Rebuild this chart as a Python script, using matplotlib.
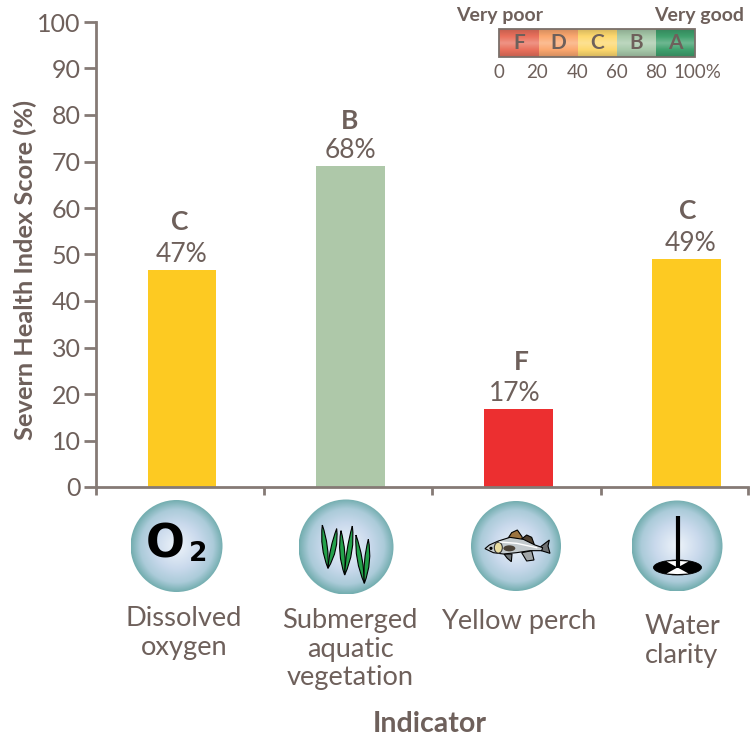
import numpy as np
import matplotlib
matplotlib.use("Agg")
import matplotlib.pyplot as plt
from matplotlib.patches import Circle, Ellipse, Polygon, Rectangle, PathPatch
from matplotlib.path import Path
from matplotlib.colors import LinearSegmentedColormap

categories = ["Dissolved\noxygen", "Submerged\naquatic\nvegetation", "Yellow perch", "Water\nclarity"]
scores = [46.7, 69.0, 16.8, 49.0]
score_labels = ["47%", "68%", "17%", "49%"]
grades = ["C", "B", "F", "C"]
bar_colors = ["#fdca22", "#aec8a9", "#ec2f30", "#fdca22"]
y_ticks = list(range(0, 101, 10))
scale_grades = ["F", "D", "C", "B", "A"]
scale_colors = ["#e9705c", "#fba76f", "#fdd86e", "#a7c9aa", "#3fa06d"]
scale_ticks = ["0", "20", "40", "60", "80", "100%"]

W, H = 755, 738
TXT = "#6e605b"
AX = "#857a75"
FONT = "Lato"
plt.rcParams["font.family"] = [FONT, "DejaVu Sans"]

fig = plt.figure(figsize=(W / 100, H / 100), dpi=100)
x0, x1, y0, y1 = 96, 748, 487, 22
ax = fig.add_axes([x0 / W, 1 - y0 / H, (x1 - x0) / W, (y0 - y1) / H])
ax.set_ylim(0, 100)
step = 168.2
left = -0.512
right = left + (x1 - x0) / step
ax.set_xlim(left, right)
xs = np.arange(len(scores))
ax.bar(xs, scores, width=68.5 / step, color=bar_colors, zorder=1)
ax.set_yticks(y_ticks)
ax.set_xticks([left, left + 1, left + 2, left + 3, right])
ax.set_xticklabels([])
ax.tick_params(axis="y", length=9, width=2, color=AX, labelcolor=TXT, labelsize=18, pad=2)
ax.tick_params(axis="x", length=6, width=2, color=AX)
for s in ("top", "right"):
    ax.spines[s].set_visible(False)
for s in ("left", "bottom"):
    ax.spines[s].set_color(AX)
    ax.spines[s].set_linewidth(2)
ax.patch.set_alpha(0)
pct_dx = [-1, 0, -4, 4]
grade_dx = [-2, -1, 3, 1]
grade_dy = [26, 24, 25, 26]
for i, (v, g, l) in enumerate(zip(scores, grades, score_labels)):
    ax.annotate(l, (i, v), xytext=(pct_dx[i] * 0.72, 2), textcoords="offset points", ha="center", va="bottom",
                fontsize=19, color=TXT)
    ax.annotate(g, (i, v), xytext=(grade_dx[i] * 0.72, grade_dy[i]), textcoords="offset points", ha="center",
                va="bottom", fontsize=19, fontweight="bold", color=TXT)

# overlay in pixel coordinates
ov = fig.add_axes([0, 0, 1, 1])
ov.set_xlim(0, W)
ov.set_ylim(H, 0)
ov.axis("off")
ov.set_autoscale_on(False)
ov.patch.set_alpha(0)

ov.text(25, 270, "Severn Health Index Score (%)", rotation=90, ha="center", va="center",
        fontsize=18.3, fontweight="bold", color=TXT)

# category labels
label_pos = [(184, 633), (350, 649), (519, 621), (682, 641)]
for (lx, ly), c in zip(label_pos, categories):
    ov.text(lx, ly, c, ha="center", va="center", fontsize=19.6, color=TXT, linespacing=1.17)
ov.text(430, 724, "Indicator", ha="center", va="center", fontsize=20.5, fontweight="bold", color=TXT)

# grade scale
sx = [499, 539, 578, 617, 656, 695]
sy0, sy1 = 29, 57
for i, (g, c) in enumerate(zip(scale_grades, scale_colors)):
    base = np.array(matplotlib.colors.to_rgb(c))
    cm = LinearSegmentedColormap.from_list("s", [base * 0.85, base, (base * 0.75 + 0.25), base, base * 0.85])
    grad = np.linspace(0, 1, 40)[:, None]
    ov.imshow(grad, extent=(sx[i], sx[i + 1], sy1, sy0), cmap=cm, aspect="auto", zorder=2)
    ov.text((sx[i] + sx[i + 1]) / 2, 43, g, ha="center", va="center", fontsize=15,
            fontweight="bold", color=TXT, zorder=3)
ov.add_patch(Rectangle((sx[0], sy0), sx[-1] - sx[0], sy1 - sy0, fc="none", ec="#7a6f6a", lw=1.3, zorder=3))
for x, t in zip([499, 537, 578, 617, 656], scale_ticks[:5]):
    ov.text(x, 72, t, ha="center", va="center", fontsize=13.5, color=TXT)
ov.text(697, 72, scale_ticks[5], ha="center", va="center", fontsize=13.5, color=TXT)
ov.text(500, 16, "Very poor", ha="center", va="center", fontsize=14, fontweight="bold", color=TXT)
ov.text(699, 16, "Very good", ha="center", va="center", fontsize=14, fontweight="bold", color=TXT)

# icon discs
cm_disc = LinearSegmentedColormap.from_list(
    "disc", [(0, "#eef4fa"), (0.5, "#c9d9ec"), (0.8, "#abcbd9"), (1, "#74aeb0")])
yy, xx = np.mgrid[-1:1:200j, -1:1:200j]
rr = np.clip(np.sqrt(xx ** 2 + yy ** 2), 0, 1)
for cx, cy, r in [(176.5, 546, 46), (346, 547, 47.5), (516, 546, 45), (677, 546, 45.5)]:
    im = ov.imshow(rr, extent=(cx - r, cx + r, cy + r, cy - r), cmap=cm_disc, vmin=0, vmax=1,
                   aspect="auto", zorder=2)
    im.set_clip_path(Circle((cx, cy), r, transform=ov.transData))

# O2
ov.text(165, 545, "O", ha="center", va="center", fontsize=33, fontweight="bold", family="DejaVu Sans",
        color="black", zorder=4)
ov.text(198, 554, "2", ha="center", va="center", fontsize=19, fontweight="bold", family="DejaVu Sans",
        color="black", zorder=4)


def zm(ox, oy, pts):
    return [(ox + a / 3, oy + b / 3) for a, b in pts]


def blade(top, bot, bend):
    """thin curved leaf between two points, in zoom coordinates"""
    t = np.array(top, float)
    b = np.array(bot, float)
    n = np.array([-(b - t)[1], (b - t)[0]])
    n = n / np.linalg.norm(n)
    m = (t + b) / 2
    p = [tuple(t), tuple(m + n * (bend + 15)), tuple(b), tuple(m + n * (bend - 15)), tuple(t)]
    return Path(zm(90, 480, p), [Path.MOVETO, Path.CURVE3, Path.CURVE3, Path.CURVE3, Path.CURVE3])


for top, bot, bend in [((697, 135), (714, 265), 2), ((740, 146), (714, 265), -6),
                       ((753, 152), (764, 285), 3), ((787, 138), (764, 285), -6),
                       ((798, 165), (823, 310), 3), ((835, 178), (823, 310), -4)]:
    ov.add_patch(PathPatch(blade(top, bot, bend), fc="#23a04a", ec="black", lw=0.8, zorder=4))

# fish
body = zm(430, 480, [(165, 206), (178, 195), (205, 183), (240, 172), (280, 178), (315, 195), (338, 203),
                     (335, 212), (300, 212), (260, 218), (220, 222), (190, 218)])
tail = zm(430, 480, [(332, 200), (358, 180), (354, 198), (360, 220), (334, 212)])
fin1 = zm(430, 480, [(232, 178), (245, 158), (262, 150), (276, 170), (278, 180)])
fin2 = zm(430, 480, [(274, 178), (290, 165), (305, 172), (313, 194), (295, 192)])
fin3 = zm(430, 480, [(222, 222), (246, 222), (244, 245), (232, 235)])
fin4 = zm(430, 480, [(275, 218), (305, 212), (312, 240), (290, 243)])
ov.add_patch(Polygon(tail, fc="#6d6f70", ec="black", lw=0.8, zorder=4))
ov.add_patch(Polygon(fin1, fc="#9c7440", ec="black", lw=0.8, zorder=4))
ov.add_patch(Polygon(fin2, fc="#4f402f", ec="black", lw=0.8, zorder=4))
ov.add_patch(Polygon(fin3, fc="#6f7577", ec="black", lw=0.8, zorder=4))
ov.add_patch(Polygon(fin4, fc="#a0a5a7", ec="black", lw=0.8, zorder=4))
ov.add_patch(Polygon(body, fc="#c3cacd", ec="black", lw=0.8, zorder=5))
ov.add_patch(Ellipse((430 + 205 / 3, 480 + 203 / 3), 8, 11, fc="#e8dca0", ec="#333333", lw=0.8, zorder=6))
ov.add_patch(Ellipse((430 + 238 / 3, 480 + 205 / 3), 12, 6, fc="#4b4236", ec="none", zorder=6))
ov.add_patch(Circle((430 + 183 / 3, 480 + 205 / 3), 1.6, fc="black", zorder=6))
ov.plot(*zip(*zm(430, 480, [(210, 186), (260, 190), (320, 203)])), color="#ffffff", lw=1, zorder=6)

# Secchi disc
cx, cy = 677.5, 567.5
ov.plot([cx, cx], [516, cy], color="black", lw=3, solid_capstyle="butt", zorder=5)
ov.add_patch(Ellipse((cx, cy), 48, 15, fc="black", ec="black", lw=0.6, zorder=4))
ov.add_patch(Polygon([(cx, cy), (cx - 11, cy - 6), (cx, cy - 6.6), (cx + 11, cy - 6)], fc="white", ec="none", zorder=4.5))
ov.add_patch(Polygon([(cx, cy), (cx - 11, cy + 6), (cx, cy + 6.6), (cx + 11, cy + 6)], fc="white", ec="none", zorder=4.5))

fig.savefig("out.png", dpi=100, facecolor="white")
